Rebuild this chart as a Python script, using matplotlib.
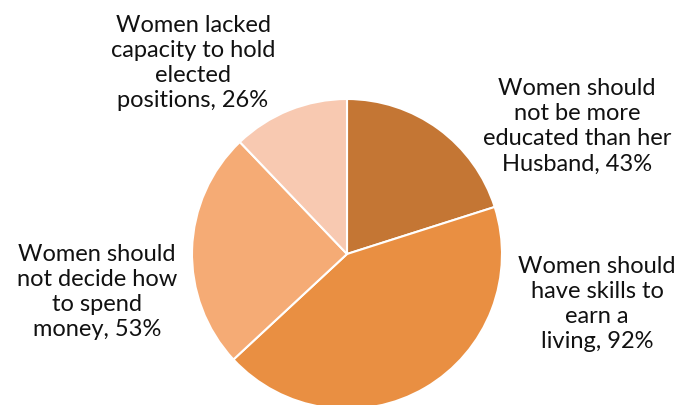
import matplotlib
matplotlib.use("Agg")
import matplotlib.pyplot as plt

# Survey answers (share of respondents agreeing)
labels = [
    "Women should\nnot be more\neducated than her\nHusband",
    "Women should\nhave skills to\nearn a\nliving",
    "Women should\nnot decide how\nto spend\nmoney",
    "Women lacked\ncapacity to hold\nelected\npositions",
]
values = [43, 92, 53, 26]
colors = ["#C47634", "#E98F42", "#F5AB75", "#F8C9B1"]

# label anchor points in pixel space (x, y from top)
label_pos = [(577, 126), (597, 304), (97, 292), (193, 63)]

W, H = 683, 406
fig = plt.figure(figsize=(W / 100, H / 100), dpi=100)
ax = fig.add_axes([0, 0, 1, 1])
ax.set_xlim(0, W)
ax.set_ylim(0, H)
ax.set_aspect("equal")
ax.axis("off")

ax.pie(values, colors=colors, startangle=90, counterclock=False,
       center=(347, H - 255), radius=155,
       wedgeprops=dict(edgecolor="white", linewidth=1.5))
ax.set_xlim(0, W)
ax.set_ylim(0, H)

for lab, val, (px, py) in zip(labels, values, label_pos):
    ax.text(px, H - py, f"{lab}, {val}%", ha="center", va="center",
            fontsize=17, family=["Lato", "DejaVu Sans"], color="#111111",
            linespacing=1.25)

fig.savefig("out.png", dpi=100)
